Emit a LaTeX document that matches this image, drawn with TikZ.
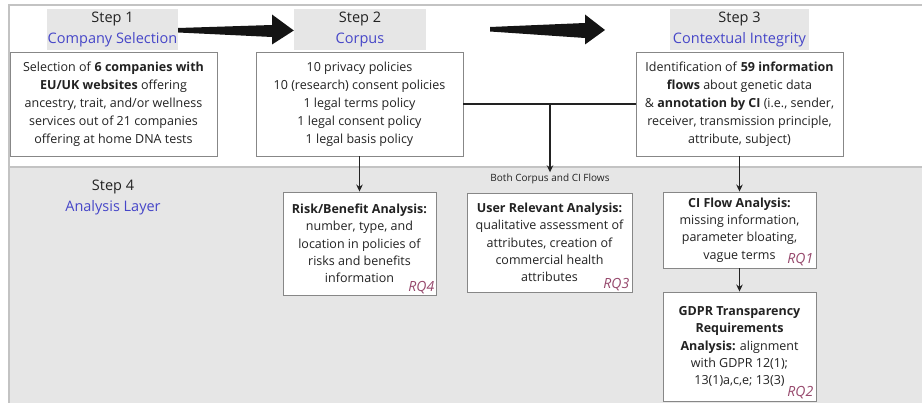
\documentclass[tikz,border=0pt]{standalone}
\usepackage{fontspec}
\setmainfont{Open Sans}
\usetikzlibrary{arrows.meta}
\definecolor{stepblue}{RGB}{70,70,200}
\definecolor{rqcol}{RGB}{150,72,108}
\definecolor{panelgray}{RGB}{230,230,230}
\definecolor{framegray}{RGB}{195,195,195}
\definecolor{boxline}{RGB}{135,135,135}
\definecolor{txt}{RGB}{34,34,34}
\begin{document}
\begin{tikzpicture}[x=1pt,y=-1pt,
  mainbox/.style={draw=boxline,line width=0.9pt,fill=white,inner sep=0pt,align=center,text=txt,font=\fontsize{12.5}{18}\selectfont},
  anbox/.style={draw=boxline,line width=0.9pt,fill=white,inner sep=0pt,align=center,text=txt,font=\fontsize{12.5}{17.3}\selectfont},
  steplabel/.style={fill=panelgray,inner sep=0pt,align=center,text=txt,font=\fontsize{14.5}{21}\selectfont},
  rq/.style={anchor=base east,inner sep=0pt,text=rqcol,font=\fontsize{14}{14}\selectfont\itshape},
  conn/.style={draw=txt,line width=1.3pt,-{Stealth[length=7pt,width=6.5pt]}},
  plainline/.style={draw=txt,line width=1.3pt},
  bigarrow/.style={fill=black!92}
]
\useasboundingbox (0,0) rectangle (922,403);
\fill[white] (0,0) rectangle (922,403);
\fill[panelgray] (9,167) rectangle (922,403);
\draw[framegray,line width=1.5pt] (9,167) -- (922,167);
\draw[framegray,line width=1.5pt] (922,5) -- (9,5) -- (9,403);

% step labels
\node[steplabel,minimum width=131pt,minimum height=41pt] (s1) at (112.5,29.5) {Step 1\\\textcolor{stepblue}{Company Selection}};
\node[steplabel,minimum width=132pt,minimum height=41pt] (s2) at (360,29.5) {Step 2\\\textcolor{stepblue}{Corpus}};
\node[steplabel,minimum width=139pt,minimum height=41pt] (s3) at (739.5,29.5) {Step 3\\\textcolor{stepblue}{Contextual Integrity}};
\node[steplabel,fill=none] (s4) at (113,197.5) {Step 4\\\textcolor{stepblue}{Analysis Layer}};

% big arrows
\fill[bigarrow] (s1.east |- 0,28) -- (272,25) -- (272,14.5) -- (s2.west |- 0,30.5) -- (272,44.5) -- (272,37) -- (s1.east |- 0,32.5) -- cycle;
\coordinate (a2tail) at (490,29);
\coordinate (a2tip) at (605,30);
\fill[bigarrow] ([yshift=2pt]a2tail) -- (585,23) -- (585,14.5) -- (a2tip) -- (585,44.5) -- (585,38) -- ([yshift=-2.5pt]a2tail) -- cycle;

% main boxes
\node[mainbox,minimum width=207pt,minimum height=104pt] (b1) at (113.5,104) {Selection of \textbf{6 companies with}\\\textbf{EU/UK websites} offering\\ancestry, trait, and/or wellness\\services out of 21 companies\\offering at home DNA tests};
\node[mainbox,minimum width=207pt,minimum height=104pt] (b2) at (359.5,104) {10 privacy policies\\10 (research) consent policies\\1 legal terms policy\\1 legal consent policy\\1 legal basis policy};
\node[mainbox,minimum width=207pt,minimum height=104pt] (b3) at (739.5,104) {Identification of \textbf{59 information}\\\textbf{flows} about genetic data\\\& \textbf{annotation by CI} (i.e., sender,\\receiver, transmission principle,\\attribute, subject)};

% analysis boxes
\node[anbox,minimum width=153pt,minimum height=103pt] (risk) at (359.5,243.5) {\textbf{Risk/Benefit Analysis:}\\number, type, and\\location in policies of\\risks and benefits\\information};
\node[anbox,minimum width=165pt,minimum height=99pt] (user) at (549.5,242.5) {\textbf{User Relevant Analysis:}\\qualitative assessment of\\attributes, creation of\\commercial health\\attributes};
\node[anbox,minimum width=153pt,minimum height=76pt] (ci) at (739.5,230) {\textbf{CI Flow Analysis:}\\missing information,\\parameter bloating,\\vague terms};
\node[anbox,minimum width=153pt,minimum height=109pt] (gdpr) at (739.5,346.5) {\textbf{GDPR Transparency}\\\textbf{Requirements}\\\textbf{Analysis:} alignment\\with GDPR 12(1);\\13(1)a,c,e; 13(3)};

% RQ labels
\node[rq] (rq4) at ([xshift=-2pt,yshift=3.5pt]risk.south east) {RQ4};
\node[rq] (rq3) at ([xshift=-3pt,yshift=3.8pt]user.south east) {RQ3};
\node[rq] (rq1) at ([xshift=-3pt,yshift=4.5pt]ci.south east) {RQ1};
\node[rq] (rq2) at ([xshift=-3pt,yshift=5pt]gdpr.south east) {RQ2};

% label for joint arrow
\node[inner sep=1.5pt,text=txt,font=\fontsize{10}{12}\selectfont] (both) at (550,179) {Both Corpus and CI Flows};

% connectors
\draw[plainline] (b2.east) -- (b3.west);
\coordinate (j) at (b2.east -| both.north);
\draw[conn] (j) -- (both.north);
\draw[conn] (b2.south) -- (risk.north);
\draw[conn] (b3.south) -- (ci.north);
\draw[conn] (ci.south) -- (gdpr.north);
\end{tikzpicture}
\end{document}
